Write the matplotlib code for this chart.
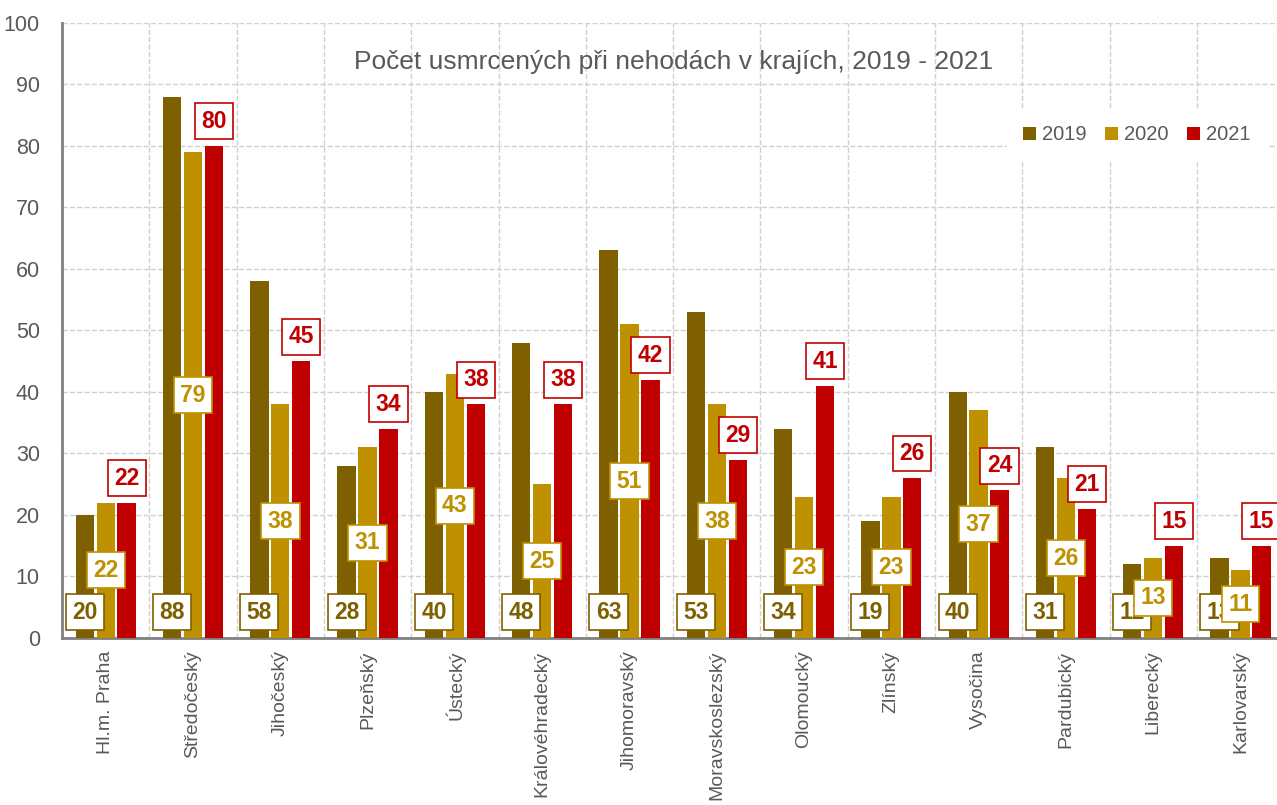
import numpy as np
import matplotlib.pyplot as plt

# data
kraje = ["Hl.m. Praha", "Středočeský", "Jihočeský", "Plzeňský", "Ústecký",
         "Královéhradecký", "Jihomoravský", "Moravskoslezský", "Olomoucký",
         "Zlínský", "Vysočina", "Pardubický", "Liberecký", "Karlovarský"]
roky = ["2019", "2020", "2021"]
v2019 = [20, 88, 58, 28, 40, 48, 63, 53, 34, 19, 40, 31, 12, 13]
v2020 = [22, 79, 38, 31, 43, 25, 51, 38, 23, 23, 37, 26, 13, 11]
v2021 = [22, 80, 45, 34, 38, 38, 42, 29, 41, 26, 24, 21, 15, 15]

barvy = ["#7F6000", "#BF9000", "#C00000"]
sedy = "#595959"

plt.rcParams['font.family'] = ['Liberation Sans', 'DejaVu Sans']

fig = plt.figure(figsize=(12.77, 8.05), dpi=100)
ax = fig.add_axes([0.0486, 0.2075, 0.957, 0.764])

x = np.arange(len(kraje))
w = 0.21
step = 0.24
serie = [v2019, v2020, v2021]

for i, (vals, c, rok) in enumerate(zip(serie, barvy, roky)):
    xs = x + (i - 1) * step
    ax.bar(xs, vals, width=w, color=c, label=rok, zorder=3)
    for xx, v in zip(xs, vals):
        if i == 0:
            y = 4.2
        elif i == 1:
            y = v / 2
        else:
            y = v + 4
        ax.text(xx, y, str(v), ha='center', va='center', fontsize=16.5,
                fontweight='bold', color=c, zorder=5,
                bbox=dict(boxstyle='square,pad=0.28', fc='white', ec=c, lw=1.2))

ax.set_xlim(-0.5, len(kraje) - 0.5)
ax.set_ylim(0, 100)
ax.set_yticks(np.arange(0, 101, 10))
ax.set_xticks(x)
ax.set_xticklabels(kraje, rotation=90, fontsize=14, color=sedy)
ax.set_xticks(x[:-1] + 0.5, minor=True)
ax.tick_params(axis='y', labelsize=15.5, labelcolor=sedy, length=0, pad=16)
ax.tick_params(axis='x', which='both', length=0, pad=9)

ax.grid(axis='y', color='#D0D0D0', linestyle='--', linewidth=1, zorder=0)
ax.grid(axis='x', which='minor', color='#D0D0D0', linestyle='--', linewidth=1, zorder=0)
ax.set_axisbelow(True)

for s in ['top', 'right']:
    ax.spines[s].set_visible(False)
for s in ['left', 'bottom']:
    ax.spines[s].set_color('#808080')
    ax.spines[s].set_linewidth(2)

ax.set_title("Počet usmrcených při nehodách v krajích, 2019 - 2021",
             fontsize=19, color=sedy, y=0.911, x=0.5)

leg = ax.legend(loc='center right', bbox_to_anchor=(0.994, 0.818), ncol=3,
                fontsize=14.5, frameon=True, fancybox=False, edgecolor='white',
                handlelength=0.65, handleheight=0.65, handletextpad=0.3,
                columnspacing=0.9, borderpad=0.8)
leg.get_frame().set_alpha(1)
for t in leg.get_texts():
    t.set_color(sedy)

plt.savefig("out.png", dpi=100)
